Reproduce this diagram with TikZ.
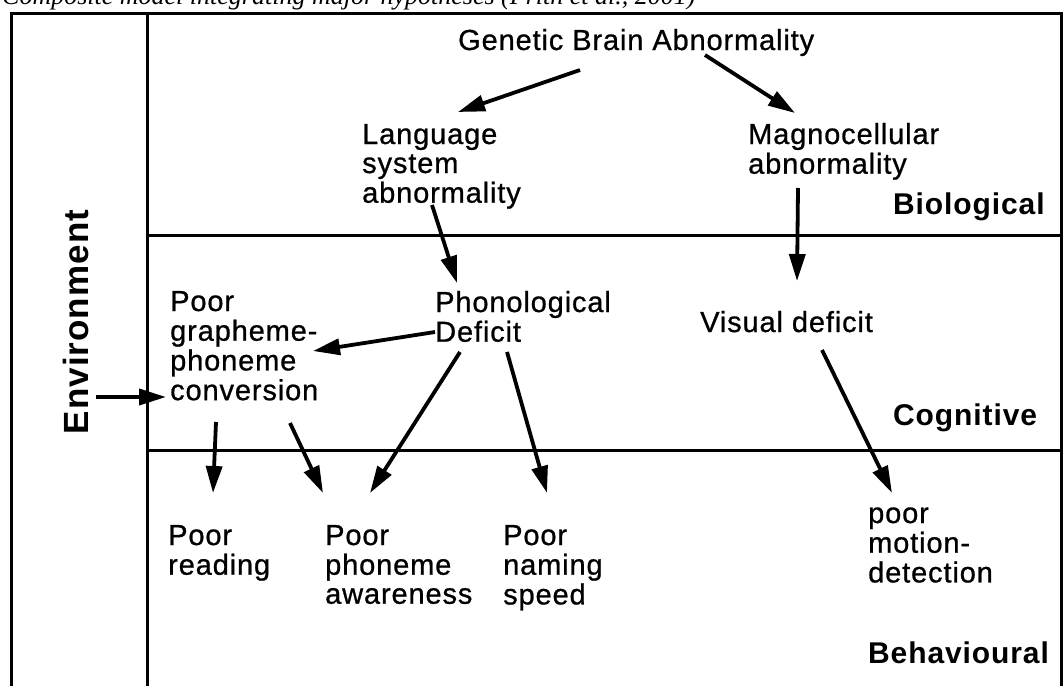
\documentclass[tikz,border=0pt]{standalone}
\usepackage{fontspec}
\setmainfont{Liberation Sans}[LetterSpace=3, UprightFeatures={FakeBold=0.8}]
\newfontfamily\titlefont{Liberation Serif}
\usetikzlibrary{arrows.meta,calc}
% left-aligned stack of lines whose baseline is that of the first line
\newcommand\stk[1]{\begin{tabular}[t]{@{}l@{}}#1\end{tabular}}

\begin{document}
\begin{tikzpicture}[x=1pt,y=-1pt,
  txt/.style={anchor=base west, inner sep=0pt, font=\fontsize{29}{29}\selectfont},
  lvl/.style={anchor=base west, inner sep=0pt, font=\fontsize{30}{30}\selectfont\bfseries},
  frame/.style={line width=3pt, line join=miter},
  arr/.style={line width=3.8pt, -{Triangle[length=27pt,width=16pt]}}]
\useasboundingbox (0,0) rectangle (1064,685);
\clip (0,0) rectangle (1064,685);
\fill[white] (0,0) rectangle (1064,685);

% caption line, mostly cut off by the upper edge
\node[anchor=base west, inner sep=0pt, font=\titlefont\itshape\fontsize{26}{26}\selectfont]
  (title) at (2,5) {Composite model integrating major hypotheses (Frith et al., 2001)};

% frame with the environment column and the three levels
\draw[frame] (11,700) -- (11,14) -- (1061,14) -- (1061,700);
\draw[frame] (147,14) -- (147,700);
\draw[frame] (147,235) -- (1061,235);
\draw[frame] (147,450) -- (1061,450);

% level labels
\node[lvl] (bio) at (893,214) {Biological};
\node[lvl] (cog) at (893,425) {Cognitive};
\node[lvl] (beh) at (868,663) {Behavioural};
\node[inner sep=0pt, rotate=90, font=\fontsize{35}{35}\selectfont\bfseries] (env) at (76,322) {Environment};

% causes and effects
\node[txt] (gen) at (458,50) {Genetic Brain Abnormality};
\node[txt] (lang) at (362,144) {\stk{Language\\system\\abnormality}};
\node[txt] (magno) at (748,144) {\stk{Magnocellular\\abnormality}};
\node[txt] (phon) at (435,312) {\stk{Phonological\\Deficit}};
\node[txt] (graph) at (170,311) {\stk{Poor\\grapheme-\\phoneme\\conversion}};
\node[txt] (vis) at (700,332) {Visual deficit};
\node[txt] (read) at (168,545) {\stk{Poor\\reading}};
\node[txt] (aware) at (325,545) {\stk{Poor\\phoneme\\awareness}};
\node[txt] (naming) at (503,545) {\stk{Poor\\naming\\speed}};
\node[txt] (motion) at (868,523) {\stk{poor\\motion-\\detection}};

% causal links
\draw[arr] ($(gen.base west)+(122,20)$) -- ($(lang.base west)+(96,-32)$);
\draw[arr] ($(gen.base west)+(247,5)$) -- ($(magno.base west)+(47,-31)$);
\draw[arr] ($(lang.base west)+(70,61)$) -- ($(phon.base west)+(22,-29)$);
\draw[arr] ($(magno.base west)+(50,44)$) -- ($(vis.base west)+(97,-51)$);
\draw[arr] ($(phon.base west)+(0,20)$) -- ($(graph.base west)+(143,40)$);
\draw[arr] ($(graph.base west)+(46,111)$) -- ($(read.base west)+(45,-52)$);
\draw[arr] ($(graph.base west)+(120,112)$) -- ($(aware.base west)+(-2,-52)$);
\draw[arr] ($(phon.base west)+(25,40)$) -- ($(aware.base west)+(45,-52)$);
\draw[arr] ($(phon.base west)+(72,40)$) -- ($(naming.base west)+(44,-52)$);
\draw[arr] ($(vis.base west)+(122,18)$) -- ($(motion.base west)+(24,-30)$);
\draw[arr] ($(env.center)+(20,75)$) -- ($(graph.base west)+(-4,86)$);
\end{tikzpicture}
\end{document}
